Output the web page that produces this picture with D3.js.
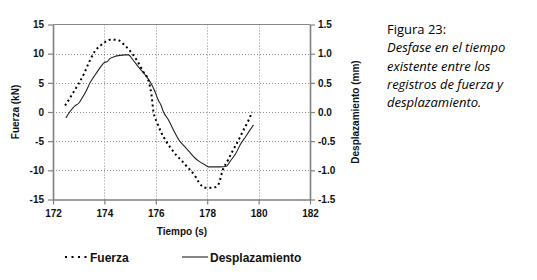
<!DOCTYPE html>
<html>
<head>
<meta charset="utf-8">
<script src="https://cdn.jsdelivr.net/npm/d3@7"></script>
<style>
  html, body { margin: 0; padding: 0; background: #fff; }
  svg { display: block; }
  .tick text { font-family: "Liberation Sans", Arial, sans-serif; font-weight: bold; font-size: 10px; fill: #111; }
</style>
</head>
<body>
<svg id="chart" width="537" height="280"></svg>
<script>
// ---- Data ----
const xTicks = [172, 174, 176, 178, 180, 182];
const xTickLabels = ["172", "174", "176", "178", "180", "182"];
const leftTicks = [-15, -10, -5, 0, 5, 10, 15];
const leftTickLabels = ["-15", "-10", "-5", "0", "5", "10", "15"];
const rightTicks = [-1.5, -1.0, -0.5, 0.0, 0.5, 1.0, 1.5];
const rightTickLabels = ["-1.5", "-1.0", "-0.5", "0.0", "0.5", "1.0", "1.5"];

// Fuerza (kN) vs tiempo (s)
const fuerzaTime = [172.47, 172.7, 172.99, 173.2, 173.38, 173.64, 173.85, 174.03, 174.22, 174.4,
  174.55, 174.8, 175.1, 175.3, 175.5, 175.74, 175.83, 175.91, 176.05, 176.2,
  176.4, 176.6, 176.8, 177.0, 177.2, 177.35, 177.55, 177.67, 177.8, 177.95,
  178.1, 178.3, 178.45, 178.6, 178.8, 179.0, 179.2, 179.4, 179.6, 179.75];
const fuerzaKN = [1.1, 2.7, 4.8, 6.5, 8.3, 10.5, 11.4, 12.0, 12.4, 12.4,
  12.3, 11.4, 9.9, 8.6, 7.0, 5.0, 3.0, 0.0, -1.8, -3.4,
  -5.0, -6.3, -7.4, -8.3, -9.3, -10.0, -11.1, -12.0, -12.7, -13.0,
  -13.0, -12.9, -12.3, -10.0, -8.3, -6.6, -5.0, -3.2, -1.5, 0.0];

// Desplazamiento (mm) vs tiempo (s)
const despTime = [172.5, 172.65, 172.86, 173.0, 173.12, 173.3, 173.44, 173.6, 173.75, 173.9,
  174.0, 174.1, 174.2, 174.4, 174.6, 174.8, 174.94, 175.1, 175.33, 175.6,
  175.8, 175.95, 176.1, 176.2, 176.3, 176.5, 176.7, 176.9, 177.1, 177.3,
  177.5, 177.7, 177.9, 178.05, 178.3, 178.5, 178.75, 178.9, 179.1, 179.3,
  179.5, 179.65, 179.8];
const despMM = [-0.10, 0.0, 0.11, 0.15, 0.23, 0.37, 0.50, 0.61, 0.71, 0.80,
  0.85, 0.86, 0.91, 0.95, 0.97, 0.98, 0.98, 0.90, 0.77, 0.63,
  0.50, 0.37, 0.20, 0.12, 0.0, -0.14, -0.32, -0.48, -0.58, -0.68,
  -0.78, -0.85, -0.90, -0.94, -0.94, -0.94, -0.93, -0.84, -0.72, -0.55,
  -0.42, -0.32, -0.22];

const legendLabels = ["Fuerza", "Desplazamiento"];
const captionTitle = "Figura 23:";
const captionLines = ["Desfase en el tiempo", "existente entre los", "registros de fuerza y", "desplazamiento."];

// ---- Layout ----
const svg = d3.select("#chart");
const L = 53, R = 310, T = 24.5, B = 199.5;
const x = d3.scaleLinear().domain([172, 182]).range([L, R]);
const yL = d3.scaleLinear().domain([-15, 15]).range([B, T]);
const yR = d3.scaleLinear().domain([-1.5, 1.5]).range([B, T]);

svg.append("rect").attr("width", 537).attr("height", 280).attr("fill", "#fff");

// gridlines
const grid = svg.append("g");
grid.selectAll("line.h").data(leftTicks.filter(d => d > -15 && d < 15)).enter()
  .append("line").attr("x1", L).attr("x2", R)
  .attr("y1", d => Math.round(yL(d)) + 0.5).attr("y2", d => Math.round(yL(d)) + 0.5)
  .attr("stroke", "#8a8a8a").attr("stroke-width", 1).attr("stroke-dasharray", "1,2");
grid.selectAll("line.v").data(xTicks.filter(d => d > 172 && d < 182)).enter()
  .append("line").attr("y1", T).attr("y2", B)
  .attr("x1", d => Math.round(x(d)) + 0.5).attr("x2", d => Math.round(x(d)) + 0.5)
  .attr("stroke", "#8a8a8a").attr("stroke-width", 1).attr("stroke-dasharray", "1,2");

// top border
svg.append("line").attr("x1", L).attr("x2", R).attr("y1", T).attr("y2", T)
  .attr("stroke", "#888").attr("stroke-width", 1.2);

// axes
function styleAxis(g) {
  g.select(".domain").attr("stroke", "#808080").attr("stroke-width", 1.6);
  g.selectAll(".tick line").attr("stroke", "#808080").attr("stroke-width", 1.2);
}
const gx = svg.append("g").attr("transform", `translate(0,${B})`)
  .call(d3.axisBottom(x).tickValues(xTicks).tickSize(5).tickSizeOuter(0).tickPadding(5)
    .tickFormat((d, i) => xTickLabels[i]));
styleAxis(gx);
const gl = svg.append("g").attr("transform", `translate(${L},0)`)
  .call(d3.axisLeft(yL).tickValues(leftTicks).tickSize(5).tickSizeOuter(0).tickPadding(4)
    .tickFormat((d, i) => leftTickLabels[i]));
styleAxis(gl);
const gr = svg.append("g").attr("transform", `translate(${R},0)`)
  .call(d3.axisRight(yR).tickValues(rightTicks).tickSize(5).tickSizeOuter(0).tickPadding(3)
    .tickFormat((d, i) => rightTickLabels[i]));
styleAxis(gr);

// series
const fuerzaData = fuerzaTime.map((t, i) => [t, fuerzaKN[i]]);
const despData = despTime.map((t, i) => [t, despMM[i]]);

svg.append("path").datum(despData)
  .attr("fill", "none").attr("stroke", "#222").attr("stroke-width", 1.1)
  .attr("d", d3.line().x(d => x(d[0])).y(d => yR(d[1])).curve(d3.curveMonotoneX));

svg.append("path").datum(fuerzaData)
  .attr("fill", "none").attr("stroke", "#000").attr("stroke-width", 2)
  .attr("stroke-dasharray", "2,3")
  .attr("d", d3.line().x(d => x(d[0])).y(d => yL(d[1])).curve(d3.curveMonotoneX));

// axis titles
const titleFont = '"Liberation Sans", Arial, sans-serif';
svg.append("text").attr("transform", `translate(19,${(T + B) / 2}) rotate(-90)`)
  .attr("text-anchor", "middle").attr("font-family", titleFont).attr("font-weight", "bold")
  .attr("font-size", 10).attr("fill", "#111").text("Fuerza (kN)");
svg.append("text").attr("transform", `translate(359,${(T + B) / 2}) rotate(-90)`)
  .attr("text-anchor", "middle").attr("font-family", titleFont).attr("font-weight", "bold")
  .attr("font-size", 10).attr("fill", "#111").text("Desplazamiento (mm)");
svg.append("text").attr("x", 182).attr("y", 235)
  .attr("text-anchor", "middle").attr("font-family", titleFont).attr("font-weight", "bold")
  .attr("font-size", 10).attr("fill", "#111").text("Tiempo (s)");

// legend
const lg = svg.append("g");
lg.append("line").attr("x1", 65).attr("x2", 88).attr("y1", 257).attr("y2", 257)
  .attr("stroke", "#000").attr("stroke-width", 2).attr("stroke-dasharray", "2,4.5");
lg.append("text").attr("x", 90).attr("y", 261.5).attr("font-family", titleFont)
  .attr("font-weight", "bold").attr("font-size", 12).attr("fill", "#111").text(legendLabels[0]);
lg.append("line").attr("x1", 182).attr("x2", 208).attr("y1", 257).attr("y2", 257)
  .attr("stroke", "#222").attr("stroke-width", 1.1);
lg.append("text").attr("x", 210).attr("y", 261.5).attr("font-family", titleFont)
  .attr("font-weight", "bold").attr("font-size", 12).attr("fill", "#111").text(legendLabels[1]);

// caption
const cap = svg.append("g").attr("font-family", '"Open Sans", sans-serif').attr("font-size", 13).attr("fill", "#000");
cap.append("text").attr("x", 387).attr("y", 34).text(captionTitle);
captionLines.forEach((s, i) => {
  cap.append("text").attr("x", 387).attr("y", 52.3 + i * 18.3).attr("font-style", "italic").text(s);
});
</script>
</body>
</html>
